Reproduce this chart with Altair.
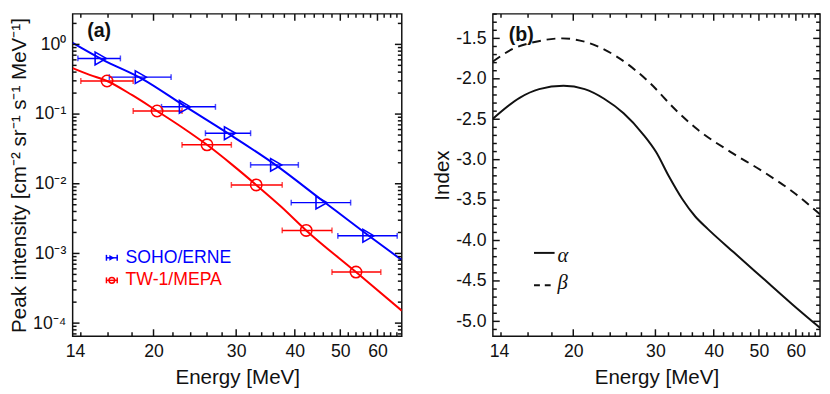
import math
import altair as alt
import pandas as pd

# ---------------- panel (a): peak intensity spectra ----------------
erne_energy = [15.43, 18.79, 23.33, 29.1, 36.5, 45.6, 57.4]
erne_low = [13.8, 16.1, 20.8, 25.8, 32.2, 39.3, 49.4]
erne_high = [17.0, 21.8, 27.1, 32.2, 40.7, 52.6, 66.1]
erne_peak = [0.629, 0.339, 0.127, 0.0531, 0.01866, 0.00536, 0.00179]

mepa_energy = [15.92, 20.35, 26.0, 33.1, 42.3, 54.0]
mepa_low = [14.0, 18.1, 23.0, 29.3, 37.6, 48.0]
mepa_high = [18.1, 23.0, 29.3, 37.6, 48.0, 61.0]
mepa_peak = [0.2985, 0.1108, 0.0362, 0.00962, 0.00214, 0.00054]

erne_fit_energy = [13.45, 15.6, 18.91, 23.36, 28.73, 36.5, 45.55, 57.4, 67.6]
erne_fit_peak = [1.05, 0.60, 0.321, 0.129, 0.0536, 0.01836, 0.0059, 0.00181, 0.000805]

mepa_fit_energy = [13.45, 14.62, 15.92, 18.02, 20.35, 23.03, 26.0, 29.35, 33.1, 37.47, 42.3, 54.0, 67.6]
mepa_fit_peak = [0.457, 0.365, 0.2985, 0.1866, 0.1108, 0.0643, 0.0362, 0.01897, 0.00962,
                 0.00464, 0.00214, 0.00054, 0.000151]

legend_names = ["SOHO/ERNE", "TW-1/MEPA"]

# ---------------- panel (b): spectral indices ----------------
alpha_energy = [13.45, 15.35, 16.90, 19.06, 21.16, 23.29, 25.64, 28.23, 30.10, 32.08, 34.22,
                36.48, 38.83, 44.22, 51.07, 58.99, 67.6]
alpha_index = [-2.494, -2.235, -2.128, -2.087, -2.128, -2.247, -2.427, -2.686, -2.906, -3.209,
               -3.484, -3.700, -3.856, -4.149, -4.470, -4.791, -5.081]
beta_energy = [13.45, 14.87, 16.64, 18.91, 21.16, 24.83, 29.14, 33.13, 37.06, 43.52, 51.07, 59.94, 67.6]
beta_index = [-1.787, -1.628, -1.541, -1.500, -1.541, -1.728, -2.047, -2.383, -2.634, -2.906,
              -3.149, -3.425, -3.676]

# ---------------- axes ----------------
X_DOMAIN = [13.45, 67.6]
YA_DOMAIN = [6.5e-5, 2.74]
YB_DOMAIN = [-5.183, -1.197]
x_major = [20, 30, 40, 50, 60]
x_minor = [14, 16, 18, 22, 24, 26, 28, 32, 34, 36, 38, 42, 44, 46, 48, 52, 54, 56, 58, 62, 64, 66]
ya_major = [1.0, 0.1, 0.01, 0.001, 0.0001]
ya_minor = [k * 10.0 ** e for e in range(-5, 1) for k in range(2, 10)
            if YA_DOMAIN[0] <= k * 10.0 ** e <= YA_DOMAIN[1]]
yb_major = [-5.0, -4.5, -4.0, -3.5, -3.0, -2.5, -2.0, -1.5]
yb_minor = [round(-5.1 + 0.1 * i, 1) for i in range(40)]
yb_minor = [v for v in yb_minor if v not in yb_major and YB_DOMAIN[0] <= v <= YB_DOMAIN[1]]

FONT = "Liberation Sans"
INK = "#111111"
BLUE = "#0000ff"
RED = "#ff0000"
W_A, W_B, H = 336, 334, 329
MAJ, MIN = 7, 4

xs = alt.Scale(type="log", domain=X_DOMAIN, nice=False)
ys_a = alt.Scale(type="log", domain=YA_DOMAIN, nice=False)
ys_b = alt.Scale(type="linear", domain=YB_DOMAIN, nice=False, zero=False)


def inset(dom, px, length, log):
    """Data values lying `px` pixels inside each end of an axis of `length` pixels."""
    if log:
        f = (math.log(dom[1]) - math.log(dom[0])) * px / length
        return [dom[0] * math.exp(f), dom[1] / math.exp(f)]
    f = (dom[1] - dom[0]) * px / length
    return [dom[0] + f, dom[1] - f]


def label_axis(orient, values, expr, title=None, label_offset=None, title_padding=None):
    a = dict(orient=orient, values=values, ticks=False, tickSize=0, domain=False, grid=False,
             labels=True, labelExpr=expr, labelFont=FONT, labelFontSize=18, labelColor=INK,
             labelPadding=7, labelOverlap=False, labelFlush=False)
    if label_offset is not None:
        a["labelOffset"] = label_offset
    if title:
        a.update(title=title, titleFont=FONT, titleFontSize=21, titleFontWeight="normal",
                 titleColor=INK)
        if title_padding is not None:
            a["titlePadding"] = title_padding
    else:
        a["title"] = None
    return alt.Axis(**a)


def tick_layers(xscale, yscale, ydom, ylog, width, height, xmaj, xmin, ymaj, ymin):
    """Inward box ticks on all four sides, drawn through the shared scales."""
    out = []
    for vals, size in ((xmaj, MAJ), (xmin, MIN)):
        ins = inset(ydom, size, height, ylog)
        for edge, inner in zip(ydom, ins):
            df = pd.DataFrame({"t": vals, "a": [edge] * len(vals), "b": [inner] * len(vals)})
            out.append(alt.Chart(df).mark_rule(color=INK, strokeWidth=1.5, opacity=1).encode(
                x=alt.X("t:Q", scale=xscale, axis=None),
                y=alt.Y("a:Q", scale=yscale, axis=None), y2="b:Q"))
    for vals, size in ((ymaj, MAJ), (ymin, MIN)):
        ins = inset(X_DOMAIN, size, width, True)
        for edge, inner in zip(X_DOMAIN, ins):
            df = pd.DataFrame({"t": vals, "a": [edge] * len(vals), "b": [inner] * len(vals)})
            out.append(alt.Chart(df).mark_rule(color=INK, strokeWidth=1.5, opacity=1).encode(
                y=alt.Y("t:Q", scale=yscale, axis=None),
                x=alt.X("a:Q", scale=xscale, axis=None), x2="b:Q"))
    return out


label_a = ("datum.value > 0.5 ? '10⁰' : datum.value > 0.05 ? '10⁻¹' : "
           "datum.value > 0.005 ? '10⁻²' : datum.value > 0.0005 ? '10⁻³' : '10⁻⁴'")
label_x = "format(datum.value, 'd')"
label_14 = "'14'"
label_b = "replace(format(datum.value, '.1f'), '−', '-')"

# ---------- panel (a) ----------
df_efit = pd.DataFrame({"E": erne_fit_energy, "I": erne_fit_peak})
df_mfit = pd.DataFrame({"E": mepa_fit_energy, "I": mepa_fit_peak})
df_erne = pd.DataFrame({"E": erne_energy, "lo": erne_low, "hi": erne_high, "I": erne_peak})
df_mepa = pd.DataFrame({"E": mepa_energy, "lo": mepa_low, "hi": mepa_high, "I": mepa_peak})

blue_fit = alt.Chart(df_efit).mark_line(color=BLUE, strokeWidth=2, clip=True, interpolate="monotone").encode(
    x=alt.X("E:Q", scale=xs, axis=label_axis("bottom", x_major, label_x, "Energy [MeV]", title_padding=6)),
    y=alt.Y("I:Q", scale=ys_a, axis=label_axis("left", ya_major, label_a,
                                               "Peak intensity [cm⁻² sr⁻¹ s⁻¹ MeV⁻¹]", title_padding=3)),
)
red_fit = alt.Chart(df_mfit).mark_line(color=RED, strokeWidth=2, clip=True, interpolate="monotone").encode(
    x=alt.X("E:Q", scale=xs, axis=label_axis("bottom", [14], label_14, label_offset=-6)),
    y=alt.Y("I:Q", scale=ys_a, axis=None),
)
erne_bars = alt.Chart(df_erne).mark_rule(color=BLUE, strokeWidth=1.5).encode(
    x=alt.X("lo:Q", scale=xs, axis=None), x2="hi:Q", y=alt.Y("I:Q", scale=ys_a, axis=None))
mepa_bars = alt.Chart(df_mepa).mark_rule(color=RED, strokeWidth=1.5).encode(
    x=alt.X("lo:Q", scale=xs, axis=None), x2="hi:Q", y=alt.Y("I:Q", scale=ys_a, axis=None))


def caps(df, color):
    return alt.Chart(df).transform_fold(["lo", "hi"], as_=["edge", "Ex"]).mark_tick(
        color=color, orient="vertical", size=6, thickness=1.5).encode(
        x=alt.X("Ex:Q", scale=xs, axis=None), y=alt.Y("I:Q", scale=ys_a, axis=None))


erne_pts = alt.Chart(df_erne).mark_point(shape="triangle-right", filled=False, size=170,
                                         strokeWidth=1.6, color=BLUE, opacity=1).encode(
    x=alt.X("E:Q", scale=xs, axis=None), y=alt.Y("I:Q", scale=ys_a, axis=None))
mepa_pts = alt.Chart(df_mepa).mark_point(shape="circle", filled=False, size=135,
                                         strokeWidth=1.6, color=RED, opacity=1).encode(
    x=alt.X("E:Q", scale=xs, axis=None), y=alt.Y("I:Q", scale=ys_a, axis=None))

one = pd.DataFrame({"k": [0]})
label_a_txt = alt.Chart(one).mark_text(text="(a)", font=FONT, fontSize=20, fontWeight="bold",
                                       color=INK, align="center", baseline="middle").encode(
    x=alt.value(27), y=alt.value(18))

leg_rows = []
for i, (name, col, shp) in enumerate(zip(legend_names, [BLUE, RED], ["triangle-right", "circle"])):
    yy = 249 + 23 * i
    leg_rows.append(alt.Chart(one).mark_rule(color=col, strokeWidth=1.5).encode(
        x=alt.value(34), x2=alt.value(46), y=alt.value(yy)))
    leg_rows.append(alt.Chart(one).mark_rule(color=col, strokeWidth=1.5).encode(
        x=alt.value(34.5), y=alt.value(yy - 3), y2=alt.value(yy + 3)))
    leg_rows.append(alt.Chart(one).mark_rule(color=col, strokeWidth=1.5).encode(
        x=alt.value(45.5), y=alt.value(yy - 3), y2=alt.value(yy + 3)))
    leg_rows.append(alt.Chart(one).mark_point(shape=shp, filled=(i == 0), size=35, strokeWidth=1.5,
                                              color=col, opacity=1).encode(
        x=alt.value(40), y=alt.value(yy)))
    leg_rows.append(alt.Chart(one).mark_text(text=name, font=FONT, fontSize=18, color=col,
                                             align="left", baseline="middle").encode(
        x=alt.value(54), y=alt.value(yy)))

panel_a = alt.layer(
    blue_fit, red_fit, erne_bars, mepa_bars, caps(df_erne, BLUE), caps(df_mepa, RED),
    erne_pts, mepa_pts, label_a_txt, *leg_rows,
    *tick_layers(xs, ys_a, YA_DOMAIN, True, W_A, H, x_major, x_minor, ya_major, ya_minor),
).resolve_axis(x="independent", y="independent").properties(width=W_A, height=H)

# ---------- panel (b) ----------
df_alpha = pd.DataFrame({"E": alpha_energy, "v": alpha_index})
df_beta = pd.DataFrame({"E": beta_energy, "v": beta_index})

alpha_line = alt.Chart(df_alpha).mark_line(color=INK, strokeWidth=2, clip=True, interpolate="monotone").encode(
    x=alt.X("E:Q", scale=xs, axis=label_axis("bottom", x_major, label_x, "Energy [MeV]", title_padding=6)),
    y=alt.Y("v:Q", scale=ys_b, axis=label_axis("left", yb_major, label_b, "Index", title_padding=3)),
)
beta_line = alt.Chart(df_beta).mark_line(color=INK, strokeWidth=2, clip=True, strokeDash=[9, 6],
                                         interpolate="monotone").encode(
    x=alt.X("E:Q", scale=xs, axis=label_axis("bottom", [14], label_14, label_offset=-2)),
    y=alt.Y("v:Q", scale=ys_b, axis=None),
)
label_b_txt = alt.Chart(one).mark_text(text="(b)", font=FONT, fontSize=20, fontWeight="bold",
                                       color=INK, align="center", baseline="middle").encode(
    x=alt.value(29), y=alt.value(22))
leg_b = [
    alt.Chart(one).mark_rule(color=INK, strokeWidth=2).encode(
        x=alt.value(42), x2=alt.value(63), y=alt.value(244)),
    alt.Chart(one).mark_text(text="α", font="Liberation Serif", fontStyle="italic", fontSize=21,
                             color=INK, align="left", baseline="alphabetic").encode(
        x=alt.value(66), y=alt.value(253)),
    alt.Chart(one).mark_rule(color=INK, strokeWidth=2, strokeDash=[6, 5]).encode(
        x=alt.value(42), x2=alt.value(63), y=alt.value(277)),
    alt.Chart(one).mark_text(text="β", font="Liberation Serif", fontStyle="italic", fontSize=21,
                             color=INK, align="left", baseline="alphabetic").encode(
        x=alt.value(66), y=alt.value(281)),
]

panel_b = alt.layer(
    alpha_line, beta_line, label_b_txt, *leg_b,
    *tick_layers(xs, ys_b, YB_DOMAIN, False, W_B, H, x_major, x_minor, yb_major, yb_minor),
).resolve_axis(x="independent", y="independent").properties(width=W_B, height=H)

chart = alt.hconcat(panel_a, panel_b, spacing=28).properties(
    padding={"left": 0, "top": 0, "right": 0, "bottom": 0}
).configure_view(stroke=INK, strokeWidth=1.5)

chart.save("out.html", embed_options={"renderer": "svg", "actions": False})
